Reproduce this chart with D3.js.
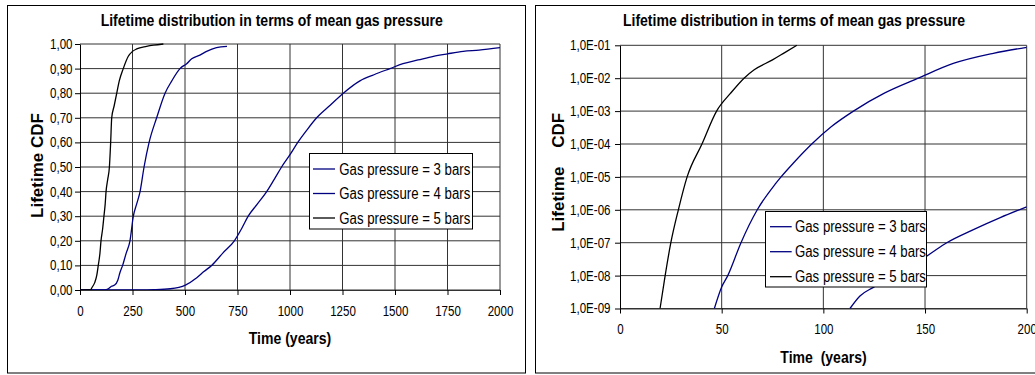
<!DOCTYPE html>
<html><head><meta charset="utf-8">
<script src="https://cdn.jsdelivr.net/npm/d3@7"></script>
<style>
body{margin:0;background:#fff;}
svg text{font-family:Arial,"Liberation Sans",sans-serif;fill:#000;}
</style></head><body>
<svg id="c" width="1035" height="375"></svg>
<script>
// ---------- data ----------
const chartTitle = "Lifetime distribution in terms of mean gas pressure";
const seriesNames = ["Gas pressure = 3 bars", "Gas pressure = 4 bars", "Gas pressure = 5 bars"];
const seriesColors = ["#000080", "#000080", "#000000"];

// left panel (linear CDF)
const linXTicks = [0, 250, 500, 750, 1000, 1250, 1500, 1750, 2000];
const linXLabels = ["0", "250", "500", "750", "1000", "1250", "1500", "1750", "2000"];
const linYTicks = [0, 0.1, 0.2, 0.3, 0.4, 0.5, 0.6, 0.7, 0.8, 0.9, 1.0];
const linYLabels = ["0,00", "0,10", "0,20", "0,30", "0,40", "0,50", "0,60", "0,70", "0,80", "0,90", "1,00"];

const lin3bars = [[0,0],[300,0],[350,0.001],[430,0.005],[502,0.02],[556,0.05],[590,0.075],[627,0.1],[680,0.15],[735,0.2],[770,0.25],[801,0.3],[845,0.35],[889,0.4],[925,0.45],[960,0.5],[1000,0.55],[1037,0.6],[1080,0.65],[1127,0.7],[1190,0.75],[1254,0.8],[1333,0.85],[1400,0.875],[1476,0.9],[1538,0.92],[1610,0.935],[1683,0.95],[1750,0.96],[1825,0.97],[1900,0.975],[2000,0.985]];
const lin4bars = [[0,0],[118,0],[135,0.005],[150,0.015],[165,0.02],[180,0.04],[190,0.07],[203,0.1],[220,0.15],[238,0.2],[254,0.3],[270,0.35],[286,0.4],[305,0.5],[329,0.6],[365,0.7],[405,0.8],[437,0.85],[476,0.9],[508,0.92],[532,0.94],[571,0.955],[603,0.97],[650,0.985],[700,0.99]];
const lin5bars = [[0,0],[50,0],[57,0.01],[70,0.03],[80,0.06],[87,0.1],[95,0.15],[100,0.2],[108,0.25],[114,0.3],[120,0.35],[124,0.4],[132,0.45],[140,0.5],[146,0.6],[151,0.7],[163,0.75],[175,0.8],[187,0.85],[206,0.9],[230,0.95],[250,0.97],[270,0.98],[317,0.99],[350,0.995],[397,1.0]];

// right panel (log CDF)
const logXTicks = [0, 50, 100, 150, 200];
const logXLabels = ["0", "50", "100", "150", "200"];
const logYTicks = [1e-9, 1e-8, 1e-7, 1e-6, 1e-5, 1e-4, 1e-3, 1e-2, 1e-1];
const logYLabels = ["1,0E-09", "1,0E-08", "1,0E-07", "1,0E-06", "1,0E-05", "1,0E-04", "1,0E-03", "1,0E-02", "1,0E-01"];

const log3bars = [[113.1,1e-9],[118,2.4e-9],[124.6,4.4e-9],[135,1.1e-8],[145,2.4e-8],[150.8,3.9e-8],[160.7,1e-7],[173.8,2.5e-7],[187,5.8e-7],[200,1.23e-6]];
const log4bars = [[46.4,1e-9],[50,4.5e-9],[53,1e-8],[59.5,1e-7],[67.5,1e-6],[76.2,5.9e-6],[79.2,1e-5],[85.3,2.65e-5],[94.3,1e-4],[104,3.4e-4],[114.8,1e-3],[130,3.5e-3],[146.7,1e-2],[163.9,2.8e-2],[183.6,5.7e-2],[200,8.7e-2]];
const log5bars = [[19.7,1e-9],[22.2,1e-8],[25,1e-7],[28.7,1e-6],[33,1e-5],[40.3,1e-4],[47.5,1e-3],[54.4,3.5e-3],[61,1e-2],[66,1.8e-2],[75,3.6e-2],[81,6e-2],[87,1e-1]];

// ---------- drawing ----------
const svg = d3.select("#c");
const SQ = 0.825;
function squeeze(sel, f = SQ) {
  sel.each(function () {
    const w = this.getComputedTextLength();
    d3.select(this).attr("textLength", w * f).attr("lengthAdjust", "spacingAndGlyphs");
  });
}

function drawPanel(cfg, idx) {
  const g = svg.append("g");
  g.append("rect").attr("x", cfg.border[0]).attr("y", cfg.border[1])
    .attr("width", cfg.border[2]).attr("height", cfg.border[3])
    .attr("fill", "#fff").attr("stroke", "#000").attr("stroke-width", 1);

  const x = d3.scaleLinear().domain(cfg.xDomain).range([cfg.plot[0], cfg.plot[1]]);
  const y = (cfg.log ? d3.scaleLog() : d3.scaleLinear()).domain(cfg.yDomain).range([cfg.plot[3], cfg.plot[2]]);

  // gridlines
  const grid = g.append("g").attr("stroke", "#333").attr("stroke-width", 1);
  cfg.yTicks.forEach(v => grid.append("line").attr("x1", cfg.plot[0]).attr("x2", cfg.plot[1]).attr("y1", y(v)).attr("y2", y(v)));
  cfg.xTicks.slice(1).forEach(v => grid.append("line").attr("x1", x(v)).attr("x2", x(v)).attr("y1", cfg.plot[2]).attr("y2", cfg.plot[3]));

  // axes
  const ya = g.append("g").attr("transform", `translate(${cfg.plot[0]},0)`)
    .call(d3.axisLeft(y).tickValues(cfg.yTicks).tickFormat((d, i) => cfg.yLabels[i]).tickSize(5).tickPadding(cfg.yPad).tickSizeOuter(0));
  const xa = g.append("g").attr("transform", `translate(0,${cfg.plot[3]})`)
    .call(d3.axisBottom(x).tickValues(cfg.xTicks).tickFormat((d, i) => cfg.xLabels[i]).tickSize(5).tickPadding(11).tickSizeOuter(0));
  [ya, xa].forEach(a => {
    a.selectAll("path.domain").attr("stroke", "#000");
    a.selectAll(".tick line").attr("stroke", "#000");
    a.selectAll("text").attr("font-size", 14).attr("font-family", "Arial, 'Liberation Sans', sans-serif").attr("fill", "#000");
  });
  xa.select("path.domain").attr("stroke", "#333");
  squeeze(ya.selectAll("text"));
  squeeze(xa.selectAll("text"));

  // lines
  const clipId = "clip" + idx;
  g.append("clipPath").attr("id", clipId).append("rect")
    .attr("x", cfg.plot[0]).attr("y", cfg.plot[2] - 1)
    .attr("width", cfg.plot[1] - cfg.plot[0]).attr("height", cfg.plot[3] - cfg.plot[2] + 1);
  const line = d3.line().x(d => x(d[0])).y(d => y(d[1])).curve(d3.curveMonotoneX);
  cfg.series.forEach((s, i) => {
    g.append("path").attr("d", line(s)).attr("fill", "none")
      .attr("stroke", seriesColors[i]).attr("stroke-width", 1.3)
      .attr("clip-path", `url(#${clipId})`);
  });

  // title
  const t = g.append("text").attr("x", cfg.titleX).attr("y", 26).attr("text-anchor", "middle")
    .attr("font-size", 17).attr("font-weight", "bold").text(chartTitle);
  squeeze(t);
  // x label
  const xl = g.append("text").attr("x", cfg.xLabel[0]).attr("y", cfg.xLabel[1]).attr("text-anchor", "middle")
    .attr("font-size", 17).attr("font-weight", "bold").style("white-space", "pre").text(cfg.xLabelText);
  squeeze(xl);
  // y label
  g.append("text").attr("transform", `translate(${cfg.yLabel[0]},${cfg.yLabel[1]}) rotate(-90)`)
    .attr("text-anchor", "middle").attr("font-size", 17).attr("font-weight", "bold")
    .style("white-space", "pre").text(cfg.yLabelText);

  // legend
  const L = cfg.legend;
  const lg = g.append("g");
  lg.append("rect").attr("x", L.box[0]).attr("y", L.box[1]).attr("width", L.box[2]).attr("height", L.box[3])
    .attr("fill", "#fff").attr("stroke", "#000").attr("stroke-width", 1);
  seriesNames.forEach((n, i) => {
    lg.append("line").attr("x1", L.line[0]).attr("x2", L.line[1]).attr("y1", L.rows[i]).attr("y2", L.rows[i])
      .attr("stroke", seriesColors[i]).attr("stroke-width", 1.3);
    const tx = lg.append("text").attr("x", L.textX).attr("y", L.rows[i] + 5.5).attr("font-size", 16).text(n);
    squeeze(tx);
  });
}

drawPanel({
  border: [7.5, 5.5, 518, 367.5],
  plot: [80, 500, 44, 290],
  xDomain: [0, 2000], yDomain: [0, 1], log: false,
  xTicks: linXTicks, xLabels: linXLabels, yTicks: linYTicks, yLabels: linYLabels, yPad: 2.5,
  series: [lin3bars, lin4bars, lin5bars],
  titleX: 271.7, xLabel: [290, 344], xLabelText: "Time (years)",
  yLabel: [43, 165.5], yLabelText: "Lifetime CDF",
  legend: { box: [309.5, 153.5, 163, 75.5], rows: [169, 193.5, 218], line: [313, 335], textX: 339.3 }
}, 0);

drawPanel({
  border: [535.5, 5.5, 520, 367.5],
  plot: [620, 1026.7, 45.3, 308.5],
  xDomain: [0, 200], yDomain: [1e-9, 1e-1], log: true,
  xTicks: logXTicks, xLabels: logXLabels, yTicks: logYTicks, yLabels: logYLabels, yPad: 4.5,
  series: [log3bars, log4bars, log5bars],
  titleX: 794, xLabel: [823.5, 363], xLabelText: "Time  (years)",
  yLabel: [564, 172.3], yLabelText: "Lifetime    CDF",
  legend: { box: [765.5, 211.5, 161, 75.5], rows: [226.7, 251.7, 276.7], line: [770, 791.7], textX: 795 }
}, 1);
</script>
</body></html>
